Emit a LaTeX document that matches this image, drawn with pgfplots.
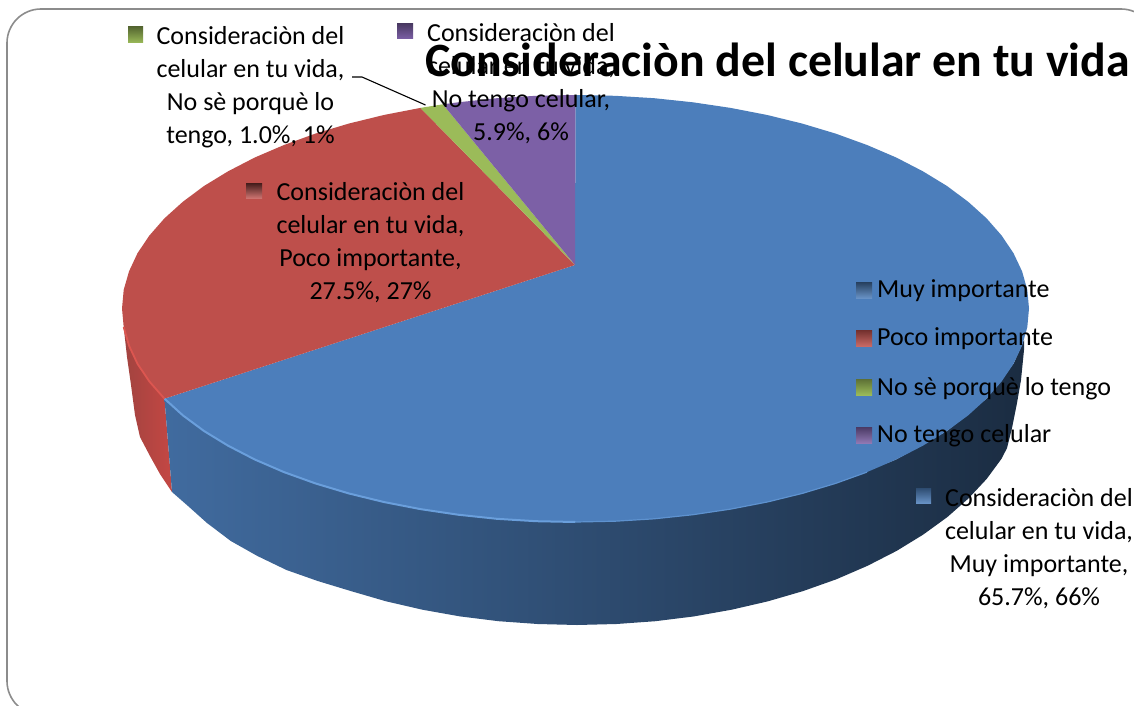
\documentclass[border=0pt]{standalone}
\usepackage{fontspec}
\setmainfont{Carlito}
\usepackage{pgfplots}
\pgfplotsset{compat=1.18}

\definecolor{blueTop}{HTML}{4C7EBB}
\definecolor{blueRim}{HTML}{6A9FDC}
\definecolor{redTop}{HTML}{BE4F4B}
\definecolor{redRim}{HTML}{DC5650}
\definecolor{greenTop}{HTML}{9BBB59}
\definecolor{purpleTop}{HTML}{7C60A6}
\definecolor{frameGrey}{HTML}{8C8C8C}

\newcommand{\lab}{\fontsize{26}{33}\selectfont}
% small 3d-looking legend key: x1 y1 x2 y2, top colour, bottom colour
\newcommand{\key}[6]{\addplot[draw=none, top color=#5, bottom color=#6] coordinates {(#1,#2) (#3,#2) (#3,#4) (#1,#4)} -- cycle;}

\begin{document}
\begin{tikzpicture}
\begin{axis}[
    width=1134pt, height=706pt, scale only axis,
    xmin=0, xmax=1134, ymin=0, ymax=706,
    y dir=reverse,
    hide axis,
]
% hidden axis gives no box of its own
\path (axis cs:0,0) rectangle (axis cs:1134,706);
% outer frame, runs off the right and bottom
\draw[overlay, frameGrey, line width=1.6pt, rounded corners=34pt]
    (axis cs:7,715) -- (axis cs:7,9) -- (axis cs:1155,9) -- (axis cs:1155,715) -- cycle;

% side walls
\addplot[draw=none, left color=redTop!85!black, right color=redTop!90!red] coordinates {
    (123.7,327.1) (137.5,363.8) (164.5,398.7) (172,492) (160,474) (150,456) (140,437) (135,415) (131,385) (127,357)
} -- cycle;
\addplot[draw=none, left color=blueTop!85!black, middle color=blueTop!62!black, right color=blueTop!35!black] coordinates {
    (164.5,398.7) (204,431) (254.8,459.5) (315.4,483.4) (383.8,502) (458.1,514.7) (536,521.2)
    (615,521.2) (692.9,514.7) (767.2,502) (835.6,483.4) (896.2,459.5) (947,431) (986.5,398.7)
    (1013.5,363.8) (1024,340)
    (1024,350) (1021,380) (1017,403) (1012,428) (1007,448) (1001.7,458.5) (986.7,478.9) (968.4,498.5)
    (947.3,517.1) (923.2,534.6) (896.6,550.9) (867.5,565.8) (836.3,579.3) (803,591.1) (768,601.3)
    (731.6,609.7) (694,616.4) (655.5,621.2) (616.4,624) (577,625) (537.6,624) (498.5,621.2) (460,616.4)
    (422.4,609.7) (386,601.3) (351,591.1) (317.7,581) (286.5,570) (257.4,556) (230.8,541) (207,523)
    (188,506) (172,492)
} -- cycle;

% top face slices
\addplot[draw=none, fill=blueTop] coordinates {
    (575,265) (575.5,95) (615,95.8) (654.2,98.2) (692.9,102.3) (730.6,107.9) (767.2,115) (802.3,123.6)
    (835.6,133.6) (867,145) (896.2,157.5) (922.9,171.3) (947,186) (968.2,201.8) (986.5,218.3)
    (1001.6,235.5) (1013.5,253.2) (1022.1,271.4) (1027.3,289.9) (1029,308.5) (1027.3,327.1) (1022.1,345.6)
    (1013.5,363.8) (1001.6,381.5) (986.5,398.7) (968.2,415.3) (947,431) (922.9,445.7) (896.2,459.5)
    (867,472.1) (835.6,483.4) (802.3,493.4) (767.2,502) (730.6,509.1) (692.9,514.7) (654.2,518.8)
    (615,521.2) (575.5,522) (536,521.2) (496.8,518.8) (458.1,514.7) (420.4,509.1) (383.8,502)
    (348.7,493.4) (315.4,483.4) (284,472.1) (254.8,459.5) (228.1,445.7) (204,431) (182.8,415.3) (164.5,398.7)
} -- cycle;
\addplot[draw=none, fill=redTop] coordinates {
    (575,265) (164.5,398.7) (149.4,381.5) (137.5,363.8) (129,345.6) (123.7,327.1) (122,308.5) (123.7,289.9)
    (129,271.4) (137.5,253.2) (149.4,235.5) (164.5,218.3) (182.8,201.8) (204,186) (228.1,171.3) (254.8,157.5)
    (284,145) (315.4,133.6) (348.7,123.6) (383.8,115) (420.4,107.9)
} -- cycle;
\addplot[draw=none, fill=greenTop] coordinates {
    (575,265) (420.4,107.9) (442.9,104.3)
} -- cycle;
\addplot[draw=none, fill=purpleTop] coordinates {
    (575,265) (442.9,104.3) (458.1,102.3) (496.8,98.2) (536,95.8) (575.5,95)
} -- cycle;

% rim highlights
\addplot[line width=2pt, color=blueRim] coordinates {
    (164.5,398.7) (182.8,415.3) (204,431) (228.1,445.7) (254.8,459.5) (284,472.1) (315.4,483.4) (348.7,493.4)
    (383.8,502) (420.4,509.1) (458.1,514.7) (496.8,518.8) (536,521.2) (575.5,522)
};
\addplot[line width=1.2pt, color=blueRim!60!blueTop] coordinates {
    (575.5,522) (615,521.2) (654.2,518.8) (692.9,514.7) (730.6,509.1) (767.2,502) (802.3,493.4) (835.6,483.4) (867,472.1)
};
\addplot[line width=1.8pt, color=redRim] coordinates {
    (123.7,327.1) (129,345.6) (137.5,363.8) (149.4,381.5) (164.5,398.7)
};

% leader line
\addplot[line width=1.1pt, color=black] coordinates {(352,77) (362,77) (425.5,105)};

% small keys
\key{128}{27}{143}{43}{greenTop!55!black}{greenTop}
\key{397}{24}{413}{39}{purpleTop!60!black}{purpleTop}
\key{246}{183}{262}{198}{redTop!35!black}{redTop!80!white}
\key{916}{488}{931}{503}{blueTop!60!black}{blueTop!85!white}
\key{856}{282}{872}{298}{blueTop!50!black}{blueTop!85!white}
\key{856}{330}{872}{346}{redTop!60!black}{redTop!85!white}
\key{856}{379}{872}{395}{greenTop!60!black}{greenTop}
\key{856}{427}{872}{443}{purpleTop!60!black}{purpleTop!85!white}

% data labels
\node[align=center, font=\lab, inner sep=0pt] at (axis cs:250.5,87.5) {Consideraciòn del\\celular en tu vida,\\No sè porquè lo\\tengo, 1.0\%, 1\%};
\node[align=center, font=\lab, inner sep=0pt] at (axis cs:521,83.5) {Consideraciòn del\\celular en tu vida,\\No tengo celular,\\5.9\%, 6\%};
\node[align=center, font=\lab, inner sep=0pt] at (axis cs:370.5,242.5) {Consideraciòn del\\celular en tu vida,\\Poco importante,\\27.5\%, 27\%};
\node[align=center, font=\lab, inner sep=0pt] at (axis cs:1039,548.5) {Consideraciòn del\\celular en tu vida,\\Muy importante,\\65.7\%, 66\%};

% legend
\node[anchor=west, font=\lab, inner sep=0pt] at (axis cs:877,291) {Muy importante};
\node[anchor=west, font=\lab, inner sep=0pt] at (axis cs:877,339) {Poco importante};
\node[anchor=west, font=\lab, inner sep=0pt] at (axis cs:877,389) {No sè porquè lo tengo};
\node[anchor=west, font=\lab, inner sep=0pt] at (axis cs:877,436) {No tengo celular};

% title
\node[anchor=east, inner sep=0pt, font=\fontsize{47.8}{50}\selectfont\bfseries] at (axis cs:1130,60) {Consideraciòn del celular en tu vida};
\end{axis}
\end{tikzpicture}
\end{document}
